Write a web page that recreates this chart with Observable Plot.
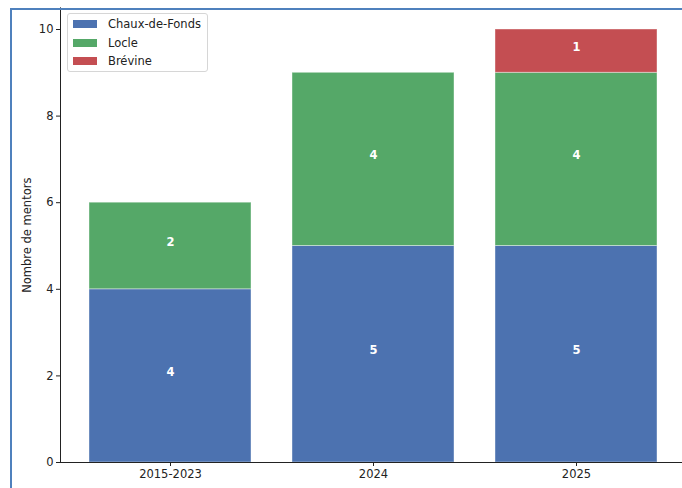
<!DOCTYPE html>
<html>
<head>
<meta charset="utf-8">
<script src="https://cdn.jsdelivr.net/npm/d3@7"></script>
<script src="https://cdn.jsdelivr.net/npm/@observablehq/plot@0.6"></script>
<style>
  html, body { margin: 0; padding: 0; background: #fff; overflow: hidden; }
  #wrap { position: relative; width: 682px; height: 488px; font-family: "DejaVu Sans", sans-serif; }
  #frame { position: absolute; left: 10px; top: 8px; width: 680px; height: 490px; border-left: 2px solid #4f81bd; border-top: 2px solid #4f81bd; pointer-events: none; }
  #legend { position: absolute; left: 67px; top: 13px; width: 139px; height: 57px; border: 1px solid #d6d6d6; border-radius: 3px; background: rgba(255,255,255,0.85); font-size: 11.5px; color: #222; }
  .row { position: absolute; left: 5px; height: 14px; display: flex; align-items: center; }
  .sw { width: 24px; height: 8px; margin-right: 11px; }
</style>
</head>
<body>
<div id="wrap">
  <div id="chart"></div>
  <div id="legend"></div>
  <div id="frame"></div>
</div>
<script>
const categories = ["2015-2023", "2024", "2025"];
const sites = ["Chaux-de-Fonds", "Locle", "Brévine"];
const chauxDeFonds = [4, 5, 5];
const locle = [2, 4, 4];
const brevine = [0, 0, 1];
const colors = ["#4c72b0", "#55a868", "#c44e52"];
const yTicks = [0, 2, 4, 6, 8, 10];

const series = [chauxDeFonds, locle, brevine];
const data = [];
sites.forEach((s, si) => categories.forEach((c, ci) => {
  data.push({category: c, site: s, value: series[si][ci]});
}));
const nonzero = data.filter(d => d.value > 0);

const plot = Plot.plot({
  width: 682,
  height: 488,
  marginLeft: 60,
  marginRight: -5,
  marginTop: 7.35,
  marginBottom: 26,
  style: {fontFamily: "DejaVu Sans, sans-serif", fontSize: "11.5px", color: "#222", background: "transparent"},
  x: {domain: categories, paddingInner: 0.2, paddingOuter: 0.14, label: null},
  y: {domain: [0, 10.5], label: null},
  color: {domain: sites, range: colors},
  marks: [
    Plot.barY(nonzero, Plot.stackY({x: "category", y: "value", fill: "site", z: "site", order: sites, stroke: "#ffffff", strokeOpacity: 0.4, strokeWidth: 1, inset: 0})),
    Plot.text(nonzero, Plot.stackY({x: "category", y: "value", z: "site", order: sites, text: "value", fill: "white", fontWeight: "bold", fontSize: 11.5, dy: -4})),
    Plot.axisY({ticks: yTicks, tickSize: 4, tickPadding: 3, label: "Nombre de mentors", labelAnchor: "center", labelArrow: "none", labelOffset: 38}),
    Plot.axisX({tickSize: 4, tickPadding: 3, label: null}),
    Plot.ruleY([0], {stroke: "#222"}),
    Plot.frame({anchor: "left", stroke: "#222"})
  ]
});
document.getElementById("chart").appendChild(plot);

const legend = document.getElementById("legend");
sites.forEach((s, i) => {
  const row = document.createElement("div");
  row.className = "row";
  row.style.top = (3 + i * 18.5) + "px";
  const sw = document.createElement("div");
  sw.className = "sw";
  sw.style.background = colors[i];
  const t = document.createElement("span");
  t.textContent = s;
  row.appendChild(sw);
  row.appendChild(t);
  legend.appendChild(row);
});
</script>
</body>
</html>
